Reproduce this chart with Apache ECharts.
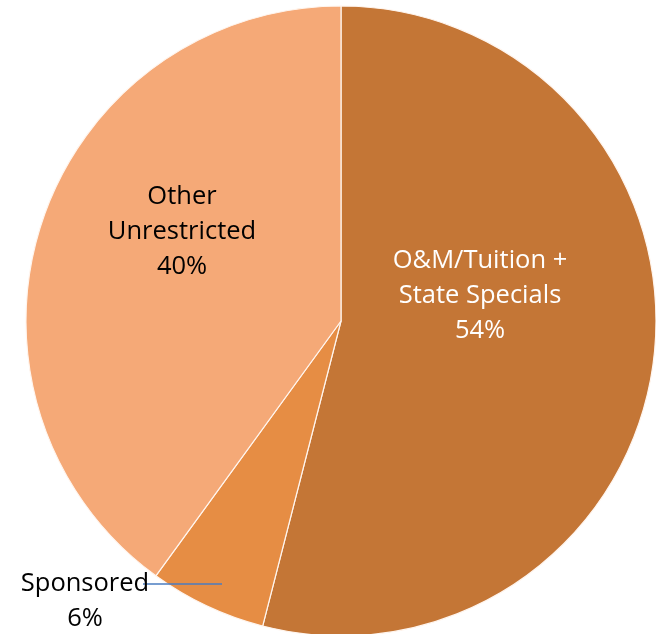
<!DOCTYPE html>
<html>
<head>
<meta charset="utf-8">
<script src="https://cdn.jsdelivr.net/npm/echarts@6/dist/echarts.min.js"></script>
<style>html,body{margin:0;padding:0;background:#fff}#c{width:656px;height:634px}</style>
</head>
<body>
<div id="c"></div>
<script>
const categories = ['O&M/Tuition +\nState Specials', 'Sponsored', 'Other\nUnrestricted'];
const values = [54, 6, 40];
const colors = ['#C47636', '#E68D44', '#F5A977'];
const labelColors = ['#ffffff', '#000000', '#000000'];

const chart = echarts.init(document.getElementById('c'), null, {renderer: 'canvas'});
const labelSpots = [
  {x: 480, y: 296},
  {x: 85, y: 601},
  {x: 182, y: 232}
];
const common = {
  type: 'pie',
  center: [341, 321],
  radius: [0, 315],
  startAngle: 90,
  clockwise: true,
  avoidLabelOverlap: false
};
chart.setOption({
  animation: false,
  series: [
    Object.assign({}, common, {
      name: 'slices',
      z: 2,
      itemStyle: {borderColor: '#fff5ee', borderWidth: 1.2},
      label: {show: false},
      labelLine: {show: false},
      data: categories.map((name, i) => ({
        name: name, value: values[i], itemStyle: {color: colors[i]}
      }))
    }),
    Object.assign({}, common, {
      name: 'labels',
      z: 5,
      silent: true,
      itemStyle: {color: 'rgba(0,0,0,0)', borderWidth: 0},
      label: {
        show: true,
        fontFamily: 'Open Sans',
        fontSize: 25.5,
        lineHeight: 35,
        align: 'center',
        formatter: p => p.name + '\n' + p.value + '%'
      },
      labelLine: {show: false},
      data: categories.map((name, i) => ({
        name: name,
        value: values[i],
        label: {
          position: i === 1 ? 'outside' : 'inside',
          color: labelColors[i]
        },
        labelLine: i === 1 ? {show: true, lineStyle: {color: '#4A7CC0', width: 1.5}} : {show: false}
      })),
      labelLayout: function (params) {
        const s = labelSpots[params.dataIndex];
        const out = {x: s.x, y: s.y, align: 'center', verticalAlign: 'middle'};
        if (params.dataIndex === 1) {
          out.labelLinePoints = [[222, 584], [182, 584], [143, 584]];
        }
        return out;
      }
    })
  ]
});
</script>
</body>
</html>
